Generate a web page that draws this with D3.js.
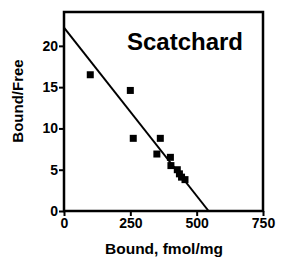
<!DOCTYPE html>
<html>
<head>
<meta charset="utf-8">
<script src="https://cdn.jsdelivr.net/npm/d3@7"></script>
<style>
  body { margin: 0; background: #fff; }
  text { font-family: Arial, "Liberation Sans", sans-serif; font-weight: bold; }
</style>
</head>
<body>
<div id="chart"></div>
<script>
const w = 284;
const h = 261;

// Scatchard data (bound fmol/mg, bound/free)
const bound = [99, 250, 261, 363, 350, 401, 403, 427, 435, 443, 456];
const boundFree = [16.5, 14.6, 8.8, 8.8, 6.9, 6.5, 5.5, 5.0, 4.5, 4.1, 3.8];
// regression line ends (x, y)
const fitX = [0, 545];
const fitY = [22.2, 0];
const xTicks = [0, 250, 500, 750];
const yTicks = [0, 5, 10, 15, 20];

const mLeft = 64, mRight = 263, mTop = 12, mBottom = 211;

const svg = d3.select('#chart').append("svg")
              .attr("width", w)
              .attr("height", h);

const x = d3.scaleLinear().domain([0, 750]).range([mLeft, mRight]);
const y = d3.scaleLinear().domain([0, 24.1]).range([mBottom, mTop]);

// frame
svg.append("rect")
   .attr("x", mLeft)
   .attr("y", mTop)
   .attr("width", mRight - mLeft)
   .attr("height", mBottom - mTop)
   .style("fill", "none")
   .style("stroke", "#000")
   .style("stroke-width", 2.5);

const xAxis = svg.append("g")
   .attr("transform", `translate(0,${mBottom})`)
   .call(d3.axisBottom(x).tickValues(xTicks).tickSize(5).tickPadding(2).tickFormat(d3.format("d")));
const yAxis = svg.append("g")
   .attr("transform", `translate(${mLeft},0)`)
   .call(d3.axisLeft(y).tickValues(yTicks).tickSize(5).tickPadding(1).tickFormat(d3.format("d")));

[xAxis, yAxis].forEach(g => {
    g.select(".domain").remove();
    g.selectAll(".tick line").style("stroke", "#000").style("stroke-width", 2);
    g.selectAll(".tick text")
     .style("font-size", "14px")
     .style("font-weight", "bold")
     .style("fill", "#000");
});

// fit line
svg.append("line")
   .attr("x1", x(fitX[0]))
   .attr("y1", y(fitY[0]))
   .attr("x2", x(fitX[1]))
   .attr("y2", y(fitY[1]))
   .style("stroke", "#000")
   .style("stroke-width", 2);

// points
const pts = bound.map((b, i) => [b, boundFree[i]]);
const s = 7;
svg.selectAll("rect.pt")
   .data(pts)
   .enter()
   .append("rect")
   .attr("class", "pt")
   .attr("x", d => x(d[0]) - s / 2)
   .attr("y", d => y(d[1]) - s / 2)
   .attr("width", s)
   .attr("height", s)
   .style("fill", "#000");

svg.append("text")
   .attr("x", 185)
   .attr("y", 50)
   .attr("text-anchor", "middle")
   .style("font-size", "24px")
   .text("Scatchard");

svg.append("text")
   .attr("x", 164)
   .attr("y", 254)
   .attr("text-anchor", "middle")
   .style("font-size", "15.5px")
   .text("Bound, fmol/mg");

svg.append("text")
   .attr("transform", "translate(23,101) rotate(-90)")
   .attr("text-anchor", "middle")
   .style("font-size", "15px")
   .text("Bound/Free");
</script>
</body>
</html>
